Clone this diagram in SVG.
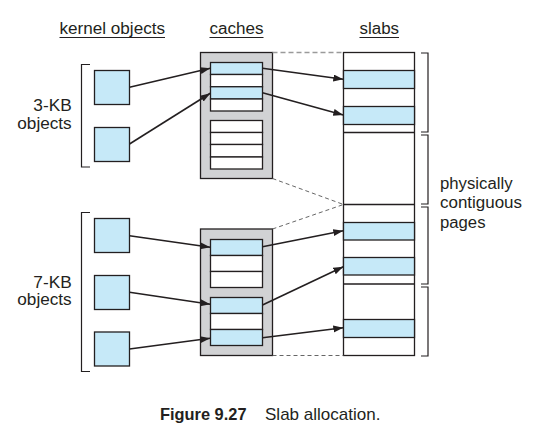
<svg xmlns="http://www.w3.org/2000/svg" width="533" height="438" viewBox="0 0 533 438">
<style>
  text { font-family: "Liberation Sans", Arial, sans-serif; fill: #231f20; }
  .lbl { font-size: 16px; }
  .cap { font-size: 17px; }
  .blue { fill: #c6e9f8; stroke: #231f20; stroke-width: 1.3; }
  .white { fill: #ffffff; stroke: #231f20; stroke-width: 1.3; }
  .gray { fill: #d1d2d4; stroke: #231f20; stroke-width: 1.3; }
  .ln { stroke: #231f20; stroke-width: 1.3; fill: none; }
  .brk { stroke: #231f20; stroke-width: 1.2; fill: none; }
  .arr { stroke: #231f20; stroke-width: 1.6; fill: none; marker-end: url(#ah); }
  .dash { stroke: #555; stroke-width: 0.9; fill: none; stroke-dasharray: 4 3; }
  .dashg { stroke: #9a9a9a; stroke-width: 1.6; fill: none; stroke-dasharray: 5 3; }
  .ul { stroke: #231f20; stroke-width: 1; }
</style>
<defs>
  <marker id="ah" markerUnits="userSpaceOnUse" markerWidth="11" markerHeight="8" refX="10" refY="3.5" orient="auto">
    <path d="M0,0 L10,3.5 L0,7 z" fill="#231f20"/>
  </marker>
</defs>
<rect width="533" height="438" fill="#ffffff"/>

<g id="headers">
  <text class="lbl" x="59.5" y="34" textLength="105.5" lengthAdjust="spacingAndGlyphs">kernel objects</text>
  <line class="ul" x1="59.5" y1="37.5" x2="165" y2="37.5"/>
  <text class="lbl" x="209.5" y="34" textLength="54" lengthAdjust="spacingAndGlyphs">caches</text>
  <line class="ul" x1="209.5" y1="37.5" x2="263.5" y2="37.5"/>
  <text class="lbl" x="359.5" y="34" textLength="39.5" lengthAdjust="spacingAndGlyphs">slabs</text>
  <line class="ul" x1="359.5" y1="37.5" x2="399" y2="37.5"/>
</g>

<g id="label-3kb">
  <text class="lbl" x="33.3" y="111" textLength="38.4" lengthAdjust="spacingAndGlyphs">3-KB</text>
  <text class="lbl" x="17.3" y="128.5" textLength="54.4" lengthAdjust="spacingAndGlyphs">objects</text>
  <path class="brk" d="M90,64.5 H81.5 V167 H90"/>
</g>
<g id="label-7kb">
  <text class="lbl" x="33.3" y="287.5" textLength="38.4" lengthAdjust="spacingAndGlyphs">7-KB</text>
  <text class="lbl" x="17.3" y="305" textLength="54.4" lengthAdjust="spacingAndGlyphs">objects</text>
  <path class="brk" d="M90,212.5 H81.5 V371.5 H90"/>
</g>

<g id="obj-3kb-1"><rect class="blue" x="94.5" y="70.5" width="35" height="34"/></g>
<g id="obj-3kb-2"><rect class="blue" x="94.5" y="127.5" width="35" height="34"/></g>
<g id="obj-7kb-1"><rect class="blue" x="94.5" y="218.5" width="35" height="34"/></g>
<g id="obj-7kb-2"><rect class="blue" x="94.5" y="275.5" width="35" height="34"/></g>
<g id="obj-7kb-3"><rect class="blue" x="94.5" y="332" width="35" height="34"/></g>

<g id="cache-3kb">
  <rect class="gray" x="200.5" y="52.5" width="72" height="126"/>
  <rect class="blue" x="210.5" y="62.5" width="52" height="12"/>
  <rect class="white" x="210.5" y="74.5" width="52" height="12.25"/>
  <rect class="blue" x="210.5" y="86.75" width="52" height="12.25"/>
  <rect class="white" x="210.5" y="99" width="52" height="12"/>
  <rect class="white" x="210.5" y="120.5" width="52" height="12"/>
  <rect class="white" x="210.5" y="132.5" width="52" height="12"/>
  <rect class="white" x="210.5" y="144.5" width="52" height="12.5"/>
  <rect class="white" x="210.5" y="157" width="52" height="12"/>
</g>

<g id="cache-7kb">
  <rect class="gray" x="200.5" y="229" width="72" height="126.5"/>
  <rect class="blue" x="210.5" y="239.5" width="52" height="16"/>
  <rect class="white" x="210.5" y="255.5" width="52" height="16"/>
  <rect class="white" x="210.5" y="271.5" width="52" height="16"/>
  <rect class="blue" x="210.5" y="297.5" width="52" height="16"/>
  <rect class="white" x="210.5" y="313.5" width="52" height="16"/>
  <rect class="blue" x="210.5" y="329.5" width="52" height="16"/>
</g>

<g id="slabs">
  <rect class="white" x="343.5" y="52.5" width="71" height="303"/>
  <rect class="blue" x="343.5" y="70.5" width="71" height="18"/>
  <rect class="blue" x="343.5" y="106.5" width="71" height="18"/>
  <rect class="blue" x="343.5" y="222.5" width="71" height="17.5"/>
  <rect class="blue" x="343.5" y="257.5" width="71" height="17.5"/>
  <rect class="blue" x="343.5" y="319.5" width="71" height="18"/>
  <path class="ln" d="M343.5,132.5 H414.5 M343.5,204.5 H414.5 M343.5,284 H414.5"/>
</g>

<g id="pages">
  <path class="brk" d="M421,53 H428 V132 H421"/>
  <path class="brk" d="M421,135 H428 V204 H421"/>
  <path class="brk" d="M421,207 H428 V284 H421"/>
  <path class="brk" d="M421,287 H428 V356 H421"/>
  <text class="lbl" x="440" y="188.5" textLength="72.5" lengthAdjust="spacingAndGlyphs">physically</text>
  <text class="lbl" x="440" y="208" textLength="82" lengthAdjust="spacingAndGlyphs">contiguous</text>
  <text class="lbl" x="440" y="227.5" textLength="45.5" lengthAdjust="spacingAndGlyphs">pages</text>
</g>

<g id="connectors">
  <path class="dashg" d="M272.5,52.5 H343.5"/>
  <path class="dash" d="M272.5,178.5 L343.5,204.5 M272.5,229 L343.5,204.5"/>
  <path class="dash" d="M272.5,355.5 H343.5"/>
  <line class="arr" x1="129.5" y1="87.3" x2="210.3" y2="68.3"/>
  <line class="arr" x1="129.5" y1="144" x2="210.3" y2="93.3"/>
  <line class="arr" x1="262.5" y1="68.3" x2="343.3" y2="79.3"/>
  <line class="arr" x1="262.5" y1="92.7" x2="343.3" y2="115"/>
  <line class="arr" x1="129.5" y1="235.7" x2="210.3" y2="247.3"/>
  <line class="arr" x1="129.5" y1="292.3" x2="210.3" y2="304.3"/>
  <line class="arr" x1="129.5" y1="349" x2="210.3" y2="338.3"/>
  <line class="arr" x1="262.5" y1="246.7" x2="343.3" y2="230.7"/>
  <line class="arr" x1="262.5" y1="305" x2="343.3" y2="266.7"/>
  <line class="arr" x1="262.5" y1="337.7" x2="343.3" y2="327.7"/>
</g>

<g id="caption">
  <text class="cap" x="160" y="419.5" font-weight="bold" textLength="86.5" lengthAdjust="spacingAndGlyphs">Figure 9.27</text>
  <text class="cap" x="265" y="419.5" textLength="115.5" lengthAdjust="spacingAndGlyphs">Slab allocation.</text>
</g>
</svg>
